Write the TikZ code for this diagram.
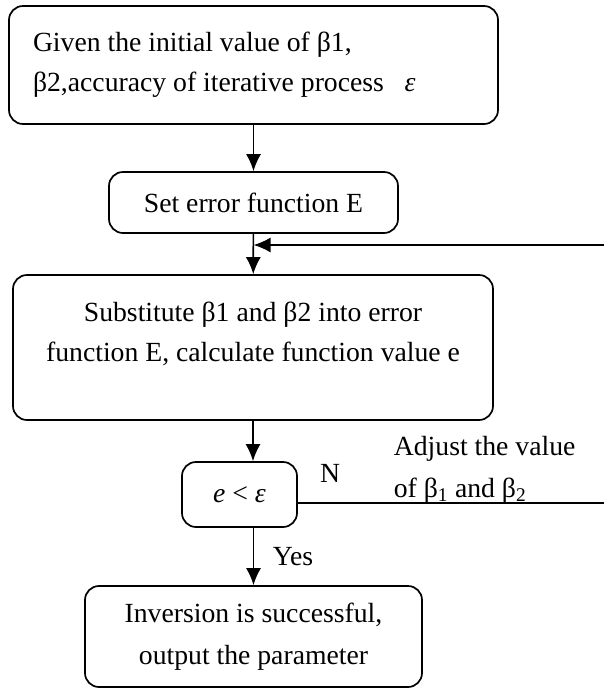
\documentclass[tikz,border=0pt]{standalone}
\usepackage{fontspec}
\setmainfont{Liberation Serif}
\usetikzlibrary{arrows.meta}

\begin{document}
\begin{tikzpicture}[x=1pt,y=-1pt,->,>={Latex[length=17pt,width=15pt]},line width=1.7pt,
    font=\fontsize{27.7}{40}\selectfont,
    box/.style={draw,rounded corners=14pt,align=center,inner sep=0pt},
    lbl/.style={inner sep=0pt}]
    \useasboundingbox (0,0) rectangle (604,689);
    \node[box,align=flush left,text width=441pt,inner xsep=24pt,minimum height=118pt] (init) at (253.5,65)
        {Given the initial value of β1,\\β2,accuracy of iterative process\ \ \ \textit{ε}};
    \node[box,minimum width=289pt,minimum height=61pt] (seterr) at (253.5,202.5) {Set error function E};
    \node[box,minimum width=480pt,minimum height=145pt] (subst) at (253,347.5)
        {Substitute β1 and β2 into error\\function E, calculate function value e\\[-9pt]\mbox{}};
    \node[box,minimum width=115pt,minimum height=65pt] (check) at (239.5,494.5) {\textit{e} < \textit{ε}};
    \node[box,minimum width=337pt,minimum height=101pt] (result) at (253.5,636.5)
        {Inversion is successful,\\[2pt]output the parameter};
    \node[lbl] (no) at (330,473) {N};
    \node[lbl,align=left,anchor=west] (adjust) at (393,470) {Adjust the value\\[2pt]of β\textsubscript{1} and β\textsubscript{2}};
    \node[lbl] (yes) at (293,557) {Yes};
    \coordinate (back) at (604,245);
    \coordinate (noend) at (604,503);
    \path
    (init) edge (seterr)
    (seterr) edge (subst)
    (back) edge (seterr.south |- back)
    (subst.south) edge (check.north -| subst.south)
    (check.south -| result.north) edge (result.north)
    (check.east |- noend) edge[-] (noend)
;
\end{tikzpicture}
\end{document}
